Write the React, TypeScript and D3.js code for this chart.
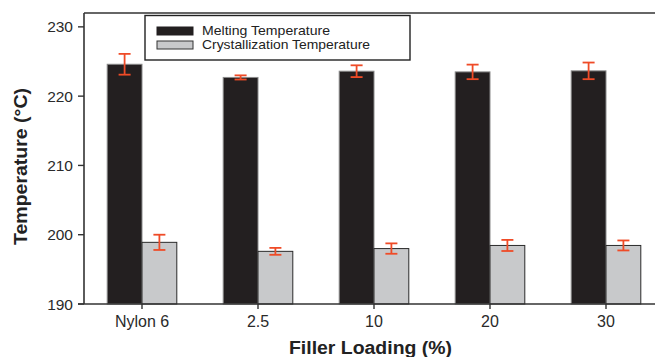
import React from "react";
import * as d3 from "d3";

// Filler loading categories and measured temperatures (°C)
const categories = ["Nylon 6", "2.5", "10", "20", "30"];
const seriesNames = ["Melting Temperature", "Crystallization Temperature"];
const meltingMean = [224.6, 222.7, 223.6, 223.5, 223.65];
const meltingErr = [1.5, 0.3, 0.85, 1.05, 1.2];
const crystMean = [198.9, 197.6, 198.0, 198.45, 198.45];
const crystErr = [1.1, 0.5, 0.75, 0.8, 0.72];
const yTicks = [190, 200, 210, 220, 230];

const W = 655;
const H = 357;
const left = 84;
const right = 664;
const top = 13;
const bottom = 304;

const fills = ["#231f20", "#c8c9cb"];
const strokes = ["#8a8a8a", "#2a2a2a"];
const errColor = "#ef4b27";
const font = "Liberation Sans, Arial, Helvetica, sans-serif";

export default function App() {
  const x = d3
    .scaleBand<string>()
    .domain(categories)
    .range([left, right])
    .paddingInner(0.4)
    .paddingOuter(0.2);
  const xs = d3
    .scaleBand<string>()
    .domain(seriesNames)
    .range([0, x.bandwidth()]);
  const y = d3.scaleLinear().domain([190, 232]).range([bottom, top]);

  const series = [
    { name: seriesNames[0], mean: meltingMean, err: meltingErr },
    { name: seriesNames[1], mean: crystMean, err: crystErr },
  ];

  return (
    <svg
      width={W}
      height={H}
      style={{ position: "absolute", left: 0, top: 0, background: "#fff" }}
      fontFamily={font}
    >
      {/* bars */}
      {series.map((s, si) =>
        categories.map((c, i) => {
          const bx = (x(c) as number) + (xs(s.name) as number);
          const by = y(s.mean[i]);
          return (
            <rect
              key={`${si}-${i}`}
              x={bx}
              y={by}
              width={xs.bandwidth()}
              height={bottom - by}
              fill={fills[si]}
              stroke={strokes[si]}
              strokeWidth={1}
            />
          );
        })
      )}

      {/* error bars */}
      {series.map((s, si) =>
        categories.map((c, i) => {
          const cx = (x(c) as number) + (xs(s.name) as number) + xs.bandwidth() / 2;
          const y1 = y(s.mean[i] + s.err[i]);
          const y2 = y(s.mean[i] - s.err[i]);
          const cap = 6;
          return (
            <g key={`e${si}-${i}`} stroke={errColor} strokeWidth={1.8}>
              <line x1={cx} x2={cx} y1={y1} y2={y2} />
              <line x1={cx - cap} x2={cx + cap} y1={y1} y2={y1} />
              <line x1={cx - cap} x2={cx + cap} y1={y2} y2={y2} />
            </g>
          );
        })
      )}

      {/* frame */}
      <line x1={left} x2={right} y1={top} y2={top} stroke="#333" strokeWidth={1.6} />
      <line x1={left} x2={left} y1={top} y2={bottom} stroke="#333" strokeWidth={1.6} />
      <line x1={left - 6} x2={right} y1={bottom} y2={bottom} stroke="#333" strokeWidth={1.6} />

      {/* y axis */}
      {yTicks.map((t) => (
        <g key={`y${t}`}>
          <line x1={left - 6} x2={left} y1={y(t)} y2={y(t)} stroke="#333" strokeWidth={1.4} />
          <text x={73} y={y(t) + 5.5} textAnchor="end" fontSize={15.5} fill="#2a2a2a">
            {t}
          </text>
        </g>
      ))}

      {/* x axis */}
      {categories.map((c) => {
        const cx = (x(c) as number) + x.bandwidth() / 2;
        return (
          <g key={`x${c}`}>
            <line x1={cx} x2={cx} y1={bottom} y2={bottom + 5} stroke="#333" strokeWidth={1.4} />
            <text x={cx} y={327} textAnchor="middle" fontSize={16} fill="#2a2a2a">
              {c}
            </text>
          </g>
        );
      })}

      {/* axis titles */}
      <text
        x={370.5}
        y={354}
        textAnchor="middle"
        fontSize={18}
        fontWeight="bold"
        fill="#222"
        textLength={163}
        lengthAdjust="spacingAndGlyphs"
      >
        Filler Loading (%)
      </text>
      <text
        transform="translate(27,166.5) rotate(-90)"
        textAnchor="middle"
        fontSize={18}
        fontWeight="bold"
        fill="#222"
        textLength={157}
        lengthAdjust="spacingAndGlyphs"
      >
        Temperature (°C)
      </text>

      {/* legend */}
      <rect x={145} y={15.5} width={265} height={44.5} fill="#fff" stroke="#222" strokeWidth={1.4} />
      {seriesNames.map((n, i) => (
        <g key={n}>
          <rect
            x={157}
            y={27 + i * 14}
            width={36}
            height={8}
            fill={fills[i]}
            stroke={i === 0 ? fills[0] : "#333"}
            strokeWidth={1}
          />
          <text
            x={202}
            y={35 + i * 14}
            fontSize={13}
            fill="#222"
            textLength={i === 0 ? 128 : 168}
            lengthAdjust="spacingAndGlyphs"
          >
            {n}
          </text>
        </g>
      ))}
    </svg>
  );
}
